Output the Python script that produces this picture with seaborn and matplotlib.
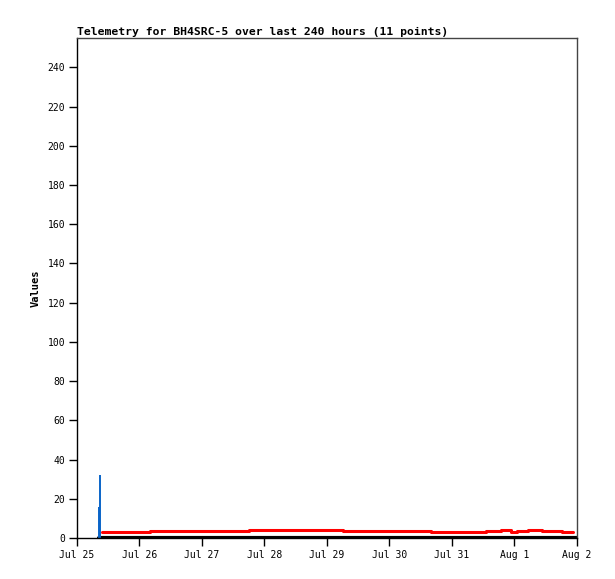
import pandas as pd
import numpy as np
import matplotlib
matplotlib.use('Agg')
import matplotlib.pyplot as plt
import seaborn as sns

# channel readings (red), step changes
red_times = pd.to_datetime([
    '2024-07-25 09:30', '2024-07-26 04:00', '2024-07-27 18:00', '2024-07-29 06:00',
    '2024-07-30 16:00', '2024-07-31 13:00', '2024-07-31 19:00', '2024-07-31 22:45',
    '2024-08-01 01:00', '2024-08-01 05:00', '2024-08-01 10:30', '2024-08-01 18:15',
    '2024-08-01 22:30'])
red_values = [2.9, 3.4, 3.9, 3.4, 2.9, 3.4, 3.9, 2.9, 3.4, 3.9, 3.4, 2.9, 2.9]

# blue spikes
blue_times = pd.to_datetime(['2024-07-25 08:25', '2024-07-25 08:50'])
blue_values = [16, 32]

# black series sitting at zero
black_times = pd.to_datetime(['2024-07-25 08:25', '2024-08-02 00:00'])
black_values = [0, 0]

tick_days = pd.date_range('2024-07-25', '2024-08-02', freq='D')
tick_labels = ['Jul 25', 'Jul 26', 'Jul 27', 'Jul 28', 'Jul 29',
               'Jul 30', 'Jul 31', 'Aug 1', 'Aug 2']
y_ticks = list(range(0, 241, 20))

sns.set_style('white')
plt.rcParams['font.family'] = ['DejaVu Sans Mono']
plt.rcParams['text.color'] = 'black'
plt.rcParams['axes.labelcolor'] = 'black'
plt.rcParams['xtick.color'] = 'black'
plt.rcParams['ytick.color'] = 'black'

fig = plt.figure(figsize=(6.15, 5.79), dpi=100)
ax = fig.add_axes([0.1252, 0.0708, 0.8130, 0.8636])

sns.lineplot(x=black_times, y=black_values, color='black', linewidth=3, ax=ax)
sns.lineplot(x=red_times, y=red_values, color='#ff0000', linewidth=2.2,
             drawstyle='steps-post', ax=ax)
ax.vlines(blue_times, 0, blue_values, colors='#0a64c8', linewidth=1.4)

ax.set_xlim(tick_days[0], tick_days[-1])
ax.set_ylim(0, 255)
ax.set_xticks(tick_days)
ax.set_xticklabels(tick_labels)
ax.set_yticks(y_ticks)

ax.tick_params(axis='both', direction='out', length=5.5, width=1, color='black',
               labelsize=7, pad=3, bottom=True, left=True)
for side in ['top', 'right']:
    ax.spines[side].set_color('#444444')
    ax.spines[side].set_linewidth(1)
for side in ['left', 'bottom']:
    ax.spines[side].set_color('black')
    ax.spines[side].set_linewidth(1)

ax.set_xlabel('')
ax.set_ylabel('Values', fontsize=7.5, fontweight='bold', labelpad=5)
ax.set_title('Telemetry for BH4SRC-5 over last 240 hours (11 points)',
             loc='left', fontsize=8.2, fontweight='bold', pad=2)

fig.savefig('out.png', dpi=100)
